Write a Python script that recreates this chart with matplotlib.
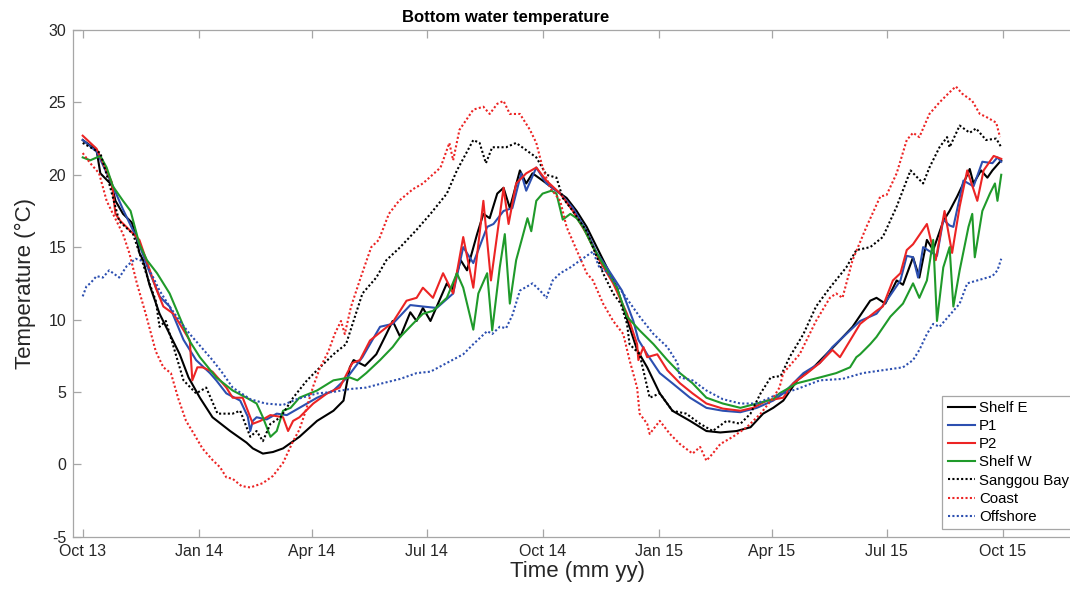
import numpy as np
import pandas as pd
import matplotlib
matplotlib.use("Agg")
import matplotlib.pyplot as plt
import matplotlib.dates as mdates

plt.rcParams['font.family'] = ['Liberation Sans', 'DejaVu Sans']
plt.rcParams['axes.unicode_minus'] = False

# days since 2013-10-01 and bottom temperature (degC)
shelf_e_day = [0, 11, 14, 23, 26, 32, 39, 43, 45, 48, 53, 61, 69, 77, 84, 93, 103, 117, 130, 135,
               143, 151, 159, 172, 186, 199, 207, 212, 215, 224, 233, 241, 246, 252, 260, 265, 270, 276,
               289, 293, 300, 305, 313, 318, 323, 329, 334, 339, 347, 352, 357, 365, 376, 384, 392, 400,
               408, 416, 424, 428, 434, 440, 448, 458, 468, 482, 495, 506, 519, 530, 540, 548, 556, 567,
               580, 598, 611, 625, 630, 637, 646, 651, 659, 664, 670, 675, 683, 688, 694, 700, 704, 707,
               713, 718, 722, 726, 729]
shelf_e_temp = [22.4, 21.7, 20.1, 19.3, 18.2, 17.3, 16.7, 15.5, 14.6, 14.1, 12.4, 10.4, 9.0, 7.6, 6.0, 4.6,
                3.25, 2.3, 1.5, 1.1, 0.74, 0.85, 1.1, 1.9, 3.0, 3.7, 4.4, 6.7, 7.2, 6.8, 7.6, 9.0, 9.9, 8.8,
                10.5, 9.9, 10.8, 9.9, 12.5, 12.0, 14.1, 13.4, 15.9, 17.3, 17.0, 18.7, 19.1, 17.7, 20.3, 19.4,
                20.1, 19.6, 18.9, 18.4, 17.5, 16.4, 15.0, 13.6, 12.2, 11.1, 9.5, 7.9, 6.7, 4.9, 3.7, 3.0,
                2.3, 2.2, 2.3, 2.56, 3.5, 3.9, 4.4, 5.8, 6.7, 8.3, 9.5, 11.3, 11.5, 11.1, 12.7, 12.4, 14.3,
                12.9, 15.5, 14.8, 16.8, 17.5, 18.5, 19.6, 20.4, 19.4, 20.3, 19.8, 20.3, 20.7, 21.0]

p1_day = [0, 11, 23, 32, 43, 53, 61, 69, 80, 90, 101, 106, 114, 125, 131, 133, 135, 138, 146, 154, 162,
          172, 186, 199, 210, 222, 236, 246, 260, 270, 281, 294, 302, 310, 321, 326, 334, 341, 348, 352,
          360, 368, 379, 389, 400, 408, 416, 428, 437, 441, 448, 458, 468, 482, 495, 508, 522, 535, 548,
          556, 572, 585, 595, 606, 617, 630, 638, 649, 654, 659, 663, 667, 678, 683, 688, 691, 699, 707,
          714, 722, 726, 729]
p1_temp = [22.4, 21.6, 19.4, 17.6, 15.6, 13.3, 11.6, 10.9, 8.6, 7.2, 6.3, 5.8, 4.9, 4.4, 3.3, 2.3, 3.0,
           3.25, 3.1, 3.5, 3.4, 3.9, 4.6, 5.1, 6.0, 7.4, 9.5, 9.7, 11.0, 10.9, 10.8, 11.8, 15.0, 13.9,
           16.4, 16.6, 17.5, 17.7, 20.1, 18.9, 20.5, 19.4, 18.7, 17.7, 16.1, 14.6, 13.6, 12.0, 9.9, 8.6,
           7.6, 6.3, 5.6, 4.6, 3.9, 3.7, 3.6, 3.9, 4.4, 4.9, 6.3, 7.0, 8.1, 9.0, 9.9, 10.4, 11.3, 12.7,
           14.4, 14.3, 12.9, 15.0, 14.4, 16.9, 16.5, 16.4, 19.6, 19.2, 20.9, 20.8, 21.2, 20.9]

p2_day = [0, 11, 23, 26, 30, 45, 58, 64, 72, 77, 85, 87, 91, 95, 103, 114, 119, 127, 135, 141, 149, 159,
          163, 167, 172, 183, 194, 204, 214, 220, 228, 238, 246, 257, 265, 270, 278, 286, 294, 302, 310,
          318, 324, 334, 338, 344, 352, 360, 368, 379, 389, 400, 410, 421, 432, 440, 441, 445, 448, 456,
          464, 474, 484, 495, 508, 522, 532, 543, 556, 564, 575, 585, 595, 601, 609, 617, 630, 635, 643,
          649, 654, 659, 670, 677, 684, 690, 696, 702, 710, 715, 723, 729]
p2_temp = [22.7, 21.8, 19.5, 17.3, 16.8, 15.5, 12.2, 10.9, 10.4, 9.7, 8.55, 5.8, 6.7, 6.7, 6.4, 5.3, 4.6,
           4.6, 2.8, 3.0, 3.4, 3.25, 2.3, 3.0, 3.25, 4.2, 4.9, 5.3, 7.0, 7.2, 8.55, 9.25, 9.8, 11.3, 11.5,
           12.2, 11.5, 13.2, 11.8, 15.7, 12.2, 18.2, 12.7, 19.1, 16.6, 19.4, 20.1, 20.5, 19.6, 18.7, 17.5,
           15.9, 14.1, 12.5, 10.4, 8.3, 7.2, 8.1, 7.4, 7.6, 6.5, 5.6, 4.9, 4.2, 3.85, 3.7, 3.9, 4.4, 4.6,
           5.6, 6.3, 7.0, 7.9, 7.4, 8.55, 9.7, 10.6, 10.9, 12.7, 13.2, 14.8, 15.2, 16.6, 14.1, 17.5, 14.6,
           17.8, 20.3, 18.2, 20.3, 21.3, 21.1]

shelf_w_day = [0, 6, 14, 19, 24, 32, 38, 45, 51, 59, 69, 85, 93, 106, 119, 130, 138, 143, 149, 154, 159,
               165, 172, 186, 199, 212, 218, 225, 236, 246, 252, 262, 270, 278, 289, 297, 302, 310, 314,
               321, 325, 331, 335, 339, 344, 349, 353, 356, 360, 365, 372, 376, 381, 387, 392, 397, 405,
               416, 424, 432, 442, 453, 464, 474, 484, 495, 508, 522, 535, 548, 553, 567, 585, 598, 609,
               614, 617, 625, 630, 641, 651, 659, 664, 670, 675, 678, 683, 688, 691, 696, 703, 706, 708,
               714, 720, 724, 726, 729]
shelf_w_temp = [21.2, 21.0, 21.3, 20.5, 19.2, 18.2, 17.5, 15.2, 14.1, 13.2, 11.8, 8.5, 7.4, 6.0, 5.1, 4.6,
                4.2, 3.25, 1.9, 2.3, 3.7, 3.9, 4.6, 5.1, 5.8, 6.0, 5.8, 6.3, 7.2, 8.1, 8.8, 9.7, 10.4,
                10.6, 11.5, 13.2, 12.2, 9.3, 11.8, 13.2, 9.25, 13.6, 15.9, 11.1, 14.1, 15.7, 17.0, 16.1,
                18.2, 18.7, 18.9, 18.7, 16.9, 17.3, 17.0, 16.4, 15.0, 13.4, 12.2, 10.2, 9.25, 8.3, 7.2,
                6.3, 5.6, 4.6, 4.2, 3.9, 4.2, 4.5, 4.9, 5.6, 6.0, 6.3, 6.7, 7.4, 7.6, 8.3, 8.8, 10.2, 11.1,
                12.5, 11.5, 12.7, 15.5, 9.9, 13.6, 15.0, 10.9, 13.4, 16.4, 17.3, 14.3, 17.5, 18.7, 19.4,
                18.2, 20.0]

sanggou_day = [0, 14, 21, 29, 40, 45, 53, 58, 61, 66, 80, 90, 98, 107, 119, 125, 133, 138, 143, 149,
               157, 167, 178, 186, 199, 209, 222, 233, 241, 252, 265, 276, 289, 297, 310, 315, 320, 325,
               336, 344, 352, 360, 368, 376, 381, 389, 400, 405, 413, 421, 427, 432, 434, 442, 450, 458,
               468, 479, 490, 500, 511, 522, 530, 538, 546, 554, 561, 572, 582, 593, 606, 614, 625, 635,
               646, 657, 667, 672, 680, 686, 688, 696, 704, 709, 717, 725, 729]
sanggou_temp = [22.2, 21.5, 19.4, 16.8, 15.9, 14.6, 12.5, 11.3, 9.5, 9.9, 5.8, 4.9, 5.3, 3.5, 3.5, 3.7,
                1.9, 2.3, 1.6, 2.8, 3.25, 4.6, 5.8, 6.5, 7.6, 8.3, 11.8, 12.9, 14.1, 15.0, 16.2, 17.3,
                18.7, 20.3, 22.4, 22.2, 20.8, 21.9, 21.9, 22.2, 21.7, 21.2, 20.0, 19.8, 18.4, 17.5, 16.1,
                15.0, 13.2, 11.8, 11.1, 9.7, 8.3, 7.6, 4.6, 4.9, 3.7, 3.5, 2.8, 2.3, 3.0, 2.8, 3.5, 4.9,
                6.0, 6.1, 7.4, 9.0, 10.9, 12.2, 13.6, 14.8, 15.0, 15.7, 17.8, 20.3, 19.4, 20.5, 21.9, 22.6,
                21.9, 23.4, 22.9, 23.2, 22.4, 22.5, 21.9]

coast_day = [0, 6, 13, 19, 24, 32, 37, 43, 50, 58, 64, 70, 76, 82, 89, 95, 103, 109, 114, 119, 126, 133,
             143, 151, 159, 167, 172, 177, 183, 188, 195, 200, 205, 208, 213, 221, 229, 235, 243, 251,
             262, 270, 284, 291, 294, 299, 310, 318, 323, 329, 334, 339, 347, 355, 360, 365, 371, 379,
             384, 392, 400, 405, 413, 421, 429, 434, 440, 442, 448, 450, 458, 466, 474, 484, 490, 495,
             500, 506, 516, 527, 538, 548, 553, 556, 569, 582, 593, 598, 603, 611, 622, 633, 638, 646,
             654, 659, 664, 672, 680, 688, 693, 698, 706, 712, 717, 725, 728]
coast_temp = [21.5, 20.8, 20.1, 18.2, 17.3, 15.9, 14.6, 12.5, 10.4, 7.8, 6.7, 6.3, 4.5, 3.0, 2.0, 1.1,
              0.3, -0.2, -0.9, -1.0, -1.5, -1.6, -1.3, -0.8, 0.1, 1.6, 2.4, 3.7, 5.4, 6.6, 7.8, 9.0, 9.9,
              9.0, 10.9, 13.0, 15.0, 15.5, 17.3, 18.2, 19.0, 19.4, 20.5, 22.2, 21.0, 23.1, 24.5, 24.7,
              24.2, 24.9, 25.1, 24.2, 24.2, 23.1, 22.2, 20.5, 19.1, 18.2, 16.4, 14.8, 13.2, 12.7, 11.1,
              9.9, 9.0, 7.2, 5.3, 3.5, 2.8, 2.1, 3.0, 2.1, 1.4, 0.74, 1.2, 0.25, 0.74, 1.4, 1.9, 2.56,
              3.5, 4.6, 5.3, 6.3, 7.6, 9.9, 11.5, 11.8, 11.5, 14.1, 16.4, 18.5, 18.6, 20.1, 22.4, 22.9,
              22.6, 24.2, 25.0, 25.7, 26.1, 25.6, 25.1, 24.2, 24.0, 23.6, 22.6]

offshore_day = [0, 3, 6, 11, 16, 21, 29, 35, 42, 49, 56, 61, 69, 77, 85, 93, 103, 111, 119, 133, 145,
                159, 170, 186, 199, 212, 225, 238, 252, 265, 276, 289, 302, 310, 321, 325, 331, 336, 341,
                347, 357, 363, 368, 373, 379, 387, 395, 405, 410, 416, 429, 442, 453, 464, 472, 474, 484,
                495, 508, 522, 535, 548, 567, 585, 603, 619, 635, 651, 659, 664, 670, 675, 680, 688, 696,
                702, 710, 722, 726, 729]
offshore_temp = [11.6, 12.3, 12.5, 13.0, 12.9, 13.4, 12.9, 13.7, 14.2, 14.0, 12.9, 12.0, 10.9, 9.9, 9.0,
                 8.2, 7.2, 6.3, 5.3, 4.5, 4.2, 4.1, 4.5, 4.9, 5.0, 5.2, 5.3, 5.6, 5.9, 6.3, 6.4, 7.0, 7.6,
                 8.3, 9.2, 9.0, 9.5, 9.4, 10.3, 12.0, 12.5, 12.0, 11.5, 12.7, 13.2, 13.6, 14.1, 14.7,
                 13.6, 13.3, 11.8, 10.2, 9.0, 8.1, 7.0, 6.0, 5.8, 5.1, 4.5, 4.2, 4.2, 4.7, 5.2, 5.8, 5.9,
                 6.3, 6.5, 6.7, 7.2, 7.9, 9.0, 9.7, 9.5, 10.3, 11.1, 12.5, 12.7, 13.0, 13.4, 14.2]

start = pd.Timestamp('2013-10-01')
tick_dates = pd.date_range('2013-10-01', '2015-10-01', freq='3MS')


def to_dates(days):
    return start + pd.to_timedelta(np.array(days, dtype=float), unit='D')


blue = '#2c4fb0'
red = '#ec2424'
green = '#1f9a2a'

series = [
    ('Shelf E', shelf_e_day, shelf_e_temp, 'black', '-'),
    ('P1', p1_day, p1_temp, blue, '-'),
    ('P2', p2_day, p2_temp, red, '-'),
    ('Shelf W', shelf_w_day, shelf_w_temp, green, '-'),
    ('Sanggou Bay', sanggou_day, sanggou_temp, 'black', ':'),
    ('Coast', coast_day, coast_temp, red, ':'),
    ('Offshore', offshore_day, offshore_temp, blue, ':'),
]

fig = plt.figure(figsize=(10.7, 5.89), dpi=100)
# axes run off the right edge of the picture, as in the original
ax_right = 1082
ax = fig.add_axes([73 / 1070, 1 - 536.7 / 589, (ax_right - 73) / 1070, (536.7 - 30) / 589])

for name, d, t, c, ls in series:
    if ls == '-':
        ax.plot(to_dates(d), t, color=c, lw=1.5, label=name)
    else:
        ax.plot(to_dates(d), t, color=c, lw=1.5, linestyle=(0, (1, 1.1)), label=name)

# 1.26 px per day, left edge ~7.7 days before Oct 13
left = start - pd.Timedelta(days=7.7)
right = left + pd.Timedelta(days=(ax_right - 73) / 1.26)
ax.set_xlim(left, right)
ax.set_ylim(-5, 30)
ax.set_yticks(np.arange(-5, 31, 5))
ax.set_xticks(tick_dates)
ax.xaxis.set_major_formatter(mdates.DateFormatter('%b %y'))

for s in ax.spines.values():
    s.set_color('#a6a6a6')
    s.set_linewidth(0.9)
ax.spines['right'].set_visible(False)
ax.tick_params(direction='in', length=6, width=0.9, color='#a6a6a6', labelcolor='#262626',
               labelsize=11.5, top=True, right=False, pad=5)

ax.set_xlabel('Time (mm yy)', fontsize=16, color='#262626', labelpad=2)
ax.set_ylabel('Temperature (°C)', fontsize=16, color='#262626', labelpad=9)
ax.set_title('Bottom water temperature', fontsize=12, fontweight='bold',
             x=(506 - 73) / (ax_right - 73), pad=6)

aw = ax_right - 73
leg = ax.legend(loc='lower left', bbox_to_anchor=((942.3 - 73) / aw, (536.7 - 529.3) / 506.7),
                borderaxespad=0, fontsize=10.8, handlelength=1.8, handletextpad=0.3,
                labelspacing=0.28, borderpad=0.35, fancybox=False, framealpha=1)
leg.get_frame().set_edgecolor('#a6a6a6')
leg.get_frame().set_linewidth(0.9)

fig.savefig('out.png', dpi=100)
